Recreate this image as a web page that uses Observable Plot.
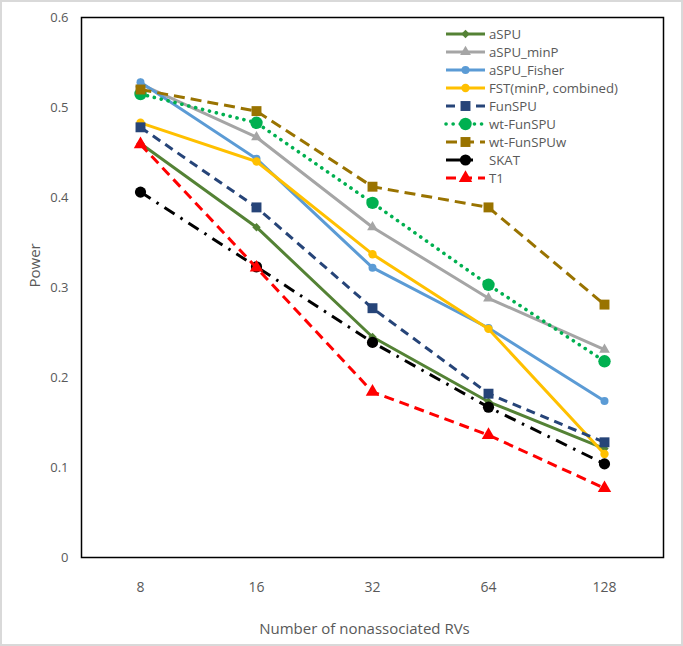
<!DOCTYPE html>
<html>
<head>
<meta charset="utf-8">
<script src="https://cdn.jsdelivr.net/npm/d3@7"></script>
<script src="https://cdn.jsdelivr.net/npm/@observablehq/plot@0.6"></script>
<style>
  html, body { margin: 0; padding: 0; background: #fff; }
  #wrap { position: relative; width: 683px; height: 646px; box-sizing: border-box; }
  #wrap::after { content: ""; position: absolute; inset: 0; border: 2px solid #d9d9d9; pointer-events: none; }
</style>
</head>
<body>
<div id="wrap"></div>
<script>
// ---- data ----
const xLabels = ["8", "16", "32", "64", "128"];
const yTicks = [0, 0.1, 0.2, 0.3, 0.4, 0.5, 0.6];
const seriesNames = ["aSPU", "aSPU_minP", "aSPU_Fisher", "FST(minP, combined)", "FunSPU", "wt-FunSPU", "wt-FunSPUw", "SKAT", "T1"];
const aSPU       = [0.460, 0.367, 0.245, 0.173, 0.121];
const aSPU_minP  = [0.526, 0.467, 0.367, 0.288, 0.231];
const aSPU_Fisher= [0.528, 0.443, 0.322, 0.255, 0.174];
const FST        = [0.483, 0.440, 0.337, 0.254, 0.115];
const FunSPU     = [0.478, 0.389, 0.277, 0.182, 0.128];
const wtFunSPU   = [0.515, 0.483, 0.394, 0.303, 0.218];
const wtFunSPUw  = [0.520, 0.496, 0.412, 0.389, 0.281];
const SKAT       = [0.406, 0.323, 0.239, 0.167, 0.104];
const T1         = [0.459, 0.322, 0.184, 0.136, 0.077];
const seriesValues = [aSPU, aSPU_minP, aSPU_Fisher, FST, FunSPU, wtFunSPU, wtFunSPUw, SKAT, T1];

// ---- styles ----
const styles = [
  {color: "#548235", dash: null,        cap: "butt",  symbol: "diamond2", r: 3.8},
  {color: "#A5A5A5", dash: null,        cap: "butt",  symbol: "triangle", r: 4.0},
  {color: "#5B9BD5", dash: null,        cap: "butt",  symbol: "circle",   r: 4.0},
  {color: "#FFC000", dash: null,        cap: "butt",  symbol: "circle",   r: 4.2},
  {color: "#264478", dash: "9,6",       cap: "butt",  symbol: "square",   r: 5.6},
  {color: "#00B050", dash: "0.1,7",     cap: "round", symbol: "circle",   r: 6.2},
  {color: "#997300", dash: "11,6",      cap: "butt",  symbol: "square",   r: 5.6},
  {color: "#000000", dash: "12,7,2.5,7",cap: "butt",  symbol: "circle",   r: 5.6},
  {color: "#FF0000", dash: "10,6",      cap: "butt",  symbol: "triangle", r: 5.0}
];

const rows = seriesNames.flatMap((name, i) => seriesValues[i].map((v, j) => ({series: name, n: xLabels[j], power: v, i})));

const marks = [];
seriesNames.forEach((name, i) => {
  const s = styles[i];
  const d = rows.filter(r => r.i === i);
  marks.push(Plot.line(d, {x: "n", y: "power", stroke: s.color, strokeWidth: s.cap === "round" ? 3.6 : 3, strokeDasharray: s.dash, strokeLinecap: s.cap}));
  marks.push(Plot.dot(d, {x: "n", y: "power", symbol: () => s.symbol, fill: s.color, stroke: "none", r: s.r}));
});

const font = "'Open Sans', 'Noto Sans', sans-serif";

const chart = Plot.plot({
  width: 683,
  height: 646,
  marginLeft: 81,
  marginRight: 20,
  marginTop: 17,
  marginBottom: 89,
  style: {fontFamily: font, background: "#fff"},
  x: {type: "point", domain: xLabels, padding: 0.5},
  y: {domain: [0, 0.6]},
  symbol: {type: "identity"},
  marks: [
    Plot.axisY({ticks: yTicks, tickSize: 0, tickPadding: 13, label: null, fontSize: 13, fill: "#595959", tickFormat: d => String(d)}),
    Plot.axisX({tickSize: 0, tickPadding: 25, label: null, fontSize: 14, fill: "#595959"}),
    ...marks,
    Plot.frame({stroke: "#000", strokeWidth: 1.5}),
    Plot.text(["Number of nonassociated RVs"], {frameAnchor: "bottom", dy: 76, dx: -8, fontSize: 15, fill: "#595959"}),
    Plot.text(["Power"], {frameAnchor: "left", dx: -46, rotate: -90, fontSize: 15, fill: "#595959"})
  ]
});

document.getElementById("wrap").appendChild(chart);

// ---- legend (inside plot, top right) ----
const svg = d3.select(chart);
const lg = svg.append("g").attr("font-family", font).attr("font-size", 13.2).attr("text-anchor", "start");
const rowY0 = 34, rowStep = 18;
const symMap = {circle: d3.symbolCircle, square: d3.symbolSquare, triangle: d3.symbolTriangle, diamond2: d3.symbolDiamond2};
seriesNames.forEach((name, i) => {
  const s = styles[i];
  const y = rowY0 + i * rowStep;
  const lx2 = i === 7 ? 473 : 485;
  lg.append("line").attr("x1", 446).attr("x2", lx2).attr("y1", y).attr("y2", y)
    .attr("stroke", s.color).attr("stroke-width", s.cap === "round" ? 3.6 : 3)
    .attr("stroke-dasharray", s.dash ? (i === 7 ? null : s.dash) : null)
    .attr("stroke-linecap", s.cap);
  lg.append("path").attr("transform", `translate(465.5,${y})`)
    .attr("d", d3.symbol(symMap[s.symbol], s.r * s.r * Math.PI)())
    .attr("fill", s.color);
  lg.append("text").attr("x", 489).attr("y", y).attr("dy", "0.35em").attr("fill", "#595959").text(name);
});
</script>
</body>
</html>
